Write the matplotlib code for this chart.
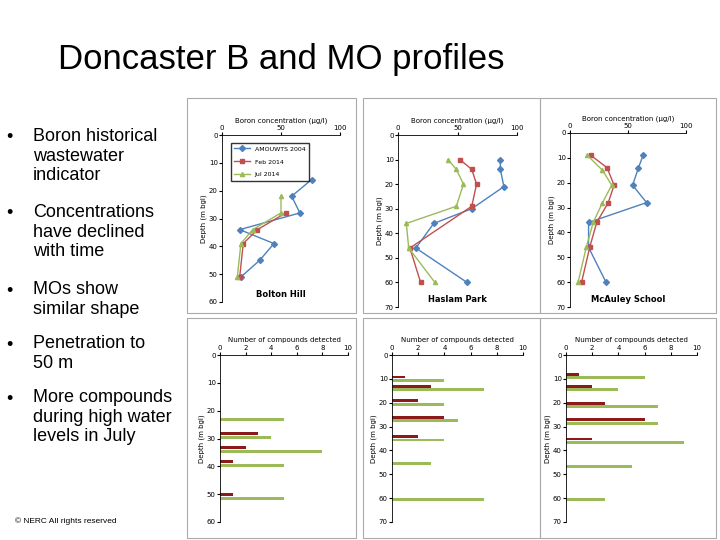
import matplotlib
matplotlib.use("Agg")
import matplotlib.pyplot as plt
from matplotlib.patches import Rectangle

W, H = 720, 540

# boron profiles: (conc, depth)
sites = ["Bolton Hill", "Haslam Park", "McAuley School"]
series = ["AMOUWTS 2004", "Feb 2014", "Jul 2014"]
boron_depth_max = [60, 70, 70]
boron = {
    "Bolton Hill": [
        ([76, 59, 66, 15, 44, 32, 16], [16, 22, 28, 34, 39, 45, 51]),
        ([54, 30, 18, 15], [28, 34, 39, 51]),
        ([50, 50, 26, 16, 13], [22, 28, 34, 39, 51]),
    ],
    "Haslam Park": [
        ([86, 86, 89, 62, 30, 15, 58], [10, 14, 21, 30, 36, 46, 60]),
        ([52, 62, 66, 62, 10, 19], [10, 14, 20, 29, 46, 60]),
        ([42, 49, 55, 49, 7, 9, 31], [10, 14, 20, 29, 36, 46, 60]),
    ],
    "McAuley School": [
        ([63, 59, 54, 66, 16, 16, 31], [9, 14, 21, 28, 36, 46, 60]),
        ([18, 32, 38, 33, 23, 17, 10], [9, 14, 21, 28, 36, 46, 60]),
        ([15, 28, 36, 28, 20, 14, 7], [9, 15, 21, 28, 36, 46, 60]),
    ],
}

# compounds detected: depth, Feb count, Jul count
comp_depth = {
    "Bolton Hill": [22.5, 29, 34, 39, 51],
    "Haslam Park": [10, 14, 20, 27, 35, 45, 60],
    "McAuley School": [9, 14, 21, 28, 36, 46, 60],
}
comp_feb = {
    "Bolton Hill": [0, 3, 2, 1, 1],
    "Haslam Park": [1, 3, 2, 4, 2, 0, 0],
    "McAuley School": [1, 2, 3, 6, 2, 0, 0],
}
comp_jul = {
    "Bolton Hill": [5, 4, 8, 5, 5],
    "Haslam Park": [4, 7, 4, 5, 4, 3, 7],
    "McAuley School": [6, 4, 7, 7, 9, 5, 3],
}

bullets = [
    "Boron historical\nwastewater\nindicator",
    "Concentrations\nhave declined\nwith time",
    "MOs show\nsimilar shape",
    "Penetration to\n50 m",
    "More compounds\nduring high water\nlevels in July",
]
bullet_y = [138, 214, 291, 345, 399]

colors = ["#4f81bd", "#c0504d", "#9bbb59"]
markers = ["D", "s", "^"]

fig = plt.figure(figsize=(7.2, 5.4), dpi=100)
bg = fig.add_axes([0, 0, 1, 1])
bg.set_xlim(0, W); bg.set_ylim(H, 0); bg.axis("off")

bg.text(58, 60, "Doncaster B and MO profiles", fontsize=25, va="center",
        family="Liberation Sans")
for t, y in zip(bullets, bullet_y):
    bg.text(6, y, "\u2022", fontsize=13, va="center", family="Liberation Sans")
    bg.text(33, y - 10, t, fontsize=13, va="top", linespacing=1.2,
            family="Liberation Sans")
bg.text(15, 521, "\u00a9 NERC All rights reserved", fontsize=6, va="center",
        family="Liberation Sans")

# panel frames
for x0, x1 in [(187, 356), (363, 540), (540, 716)]:
    bg.add_patch(Rectangle((x0, 98), x1 - x0, 215, fill=False, ec="#aaaaaa", lw=0.8))
    bg.add_patch(Rectangle((x0, 318), x1 - x0, 220, fill=False, ec="#aaaaaa", lw=0.8))


def ax_at(x0, y0, x1, y1):
    return fig.add_axes([x0 / W, 1 - y1 / H, (x1 - x0) / W, (y1 - y0) / H])


def style(ax, xmax, ymax, xlabel, ylabel):
    ax.set_xlim(0, xmax)
    ax.set_ylim(ymax, 0)
    ax.xaxis.tick_top()
    ax.xaxis.set_label_position("top")
    ax.set_xlabel(xlabel, fontsize=5, labelpad=2)
    ax.set_ylabel(ylabel, fontsize=5, labelpad=1)
    ax.tick_params(labelsize=5, length=2, pad=1)
    for s in ["right", "bottom"]:
        ax.spines[s].set_visible(False)
    for s in ["left", "top"]:
        ax.spines[s].set_linewidth(0.6)


top_boxes = [(222, 135, 340, 302), (398, 135, 517, 307), (570, 133, 686, 307)]
bot_boxes = [(220, 355, 348, 522), (392, 355, 523, 522), (566, 355, 697, 522)]

for i, site in enumerate(sites):
    ax = ax_at(*top_boxes[i])
    for j, (xs, ys) in enumerate(boron[site]):
        ax.plot(xs, ys, color=colors[j], marker=markers[j], ms=3, lw=1,
                label=series[j])
    style(ax, 100, boron_depth_max[i], "Boron concentration (\u00b5g/l)", "Depth (m bgl)")
    ax.set_xticks([0, 50, 100])
    ax.set_yticks(range(0, boron_depth_max[i] + 1, 10))
    ax.text(0.5, 0.03, site, transform=ax.transAxes, ha="center", fontsize=6,
            fontweight="bold")
    if i == 0:
        ax.legend(fontsize=4.5, loc="upper left", bbox_to_anchor=(0.05, 0.97),
                  frameon=True, fancybox=False, edgecolor="black",
                  handlelength=2.5, borderpad=0.5, labelspacing=1.2)

    bx = ax_at(*bot_boxes[i])
    d = comp_depth[site]
    bx.barh([v - 0.8 for v in d], comp_feb[site], height=1.2, color="#8b1a1a")
    bx.barh([v + 0.6 for v in d], comp_jul[site], height=1.2, color="#9bbb59")
    ymax = 60 if i == 0 else 70
    style(bx, 10, ymax, "Number of compounds detected", "Depth (m bgl)")
    bx.set_xticks(range(0, 11, 2))
    bx.set_yticks(range(0, ymax + 1, 10))

fig.savefig("out.png", dpi=100)
